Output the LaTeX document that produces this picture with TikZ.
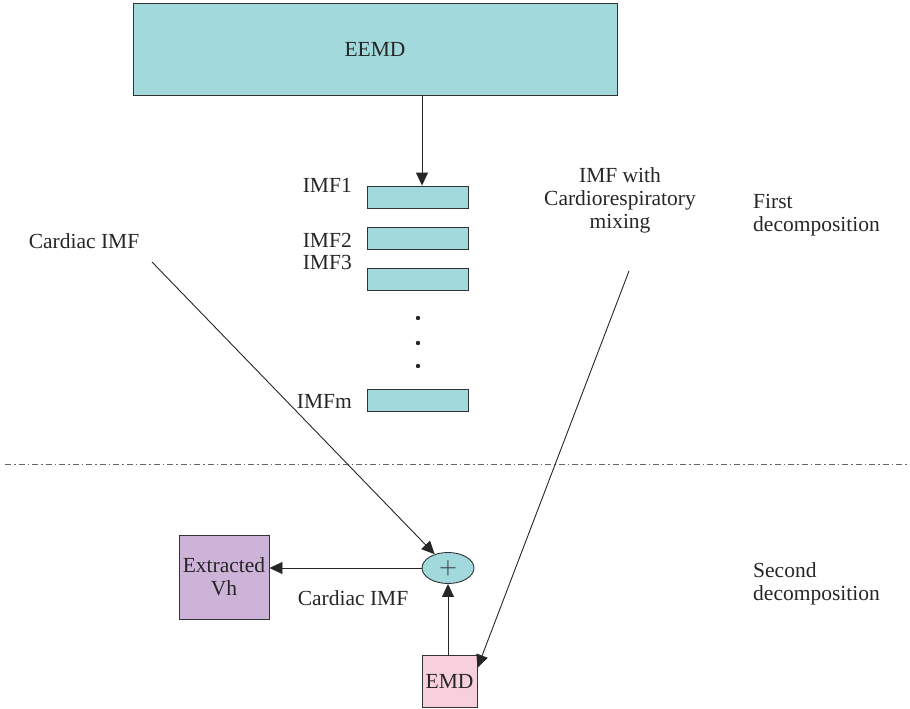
\documentclass[tikz,border=0pt]{standalone}
\usepackage{fontspec}
\setmainfont{Liberation Serif}
\usetikzlibrary{arrows.meta,calc,shapes.geometric}
\definecolor{tealfill}{HTML}{A1D9DC}
\definecolor{violetfill}{HTML}{CDB3D7}
\definecolor{pinkfill}{HTML}{F7CFDD}
\definecolor{edge}{HTML}{333333}
\begin{document}
\begin{tikzpicture}[x=1pt,y=-1pt,
  every node/.style={font=\fontsize{21.5}{23}\selectfont, text=black!85},
  box/.style={draw=edge, line width=0.9pt, inner sep=0pt},
  imfbox/.style={box, fill=tealfill, minimum width=101pt, minimum height=22pt},
  lbl/.style={inner sep=0pt, align=center},
  arr/.style={draw=black!85, line width=0.9pt, -{Triangle[length=13pt,width=12pt]}},
]
\useasboundingbox (0,0) rectangle (910,709);

% first decomposition
\node[box, fill=tealfill, minimum width=484pt, minimum height=92pt] (eemd) at (375,49) {EEMD};
\node[imfbox] (imf1) at (417.5,197) {};
\node[imfbox] (imf2) at (417.5,238) {};
\node[imfbox] (imf3) at (417.5,279.5) {};
\node[imfbox] (imfm) at (417.5,400) {};
\node[lbl, anchor=east] (limf1) at (352,185) {IMF1};
\node[lbl, anchor=east] (limf2) at (352,240) {IMF2};
\node[lbl, anchor=east] (limf3) at (352,262) {IMF3};
\node[lbl, anchor=east] (limfm) at (352,401) {IMFm};
\foreach \y/\n in {318/d1,343/d2,366/d3}
  \fill[black!85] (418,\y) circle (2.2pt) coordinate (\n);
\coordinate (eemdout) at (422,95);
\draw[arr] (eemdout) -- (imf1.north -| eemdout);

\node[lbl] (cardlab) at (84,241) {Cardiac IMF};
\node[lbl] (mixlab) at (620,200) {IMF with\\Cardiorespiratory\\mixing};
\node[lbl, align=left, anchor=west] (first) at (753,215) {First\\decomposition};

% separator
\coordinate (sepl) at (5,464);
\coordinate (sepr) at (910,464);
\draw[gray!80!black, line width=0.9pt, dash pattern=on 6pt off 3pt on 1.5pt off 3pt] (sepl) -- (sepr);

% second decomposition
\node[box, fill=tealfill, ellipse, minimum width=52pt, minimum height=31pt,
      font=\fontsize{28}{28}\selectfont] (plus) at (448,568) {$+$};
\node[box, fill=violetfill, minimum width=90pt, minimum height=84pt, lbl] (vh) at (224,577) {Extracted\\Vh};
\node[box, fill=pinkfill, minimum width=55pt, minimum height=52pt] (emd) at (449.5,681) {EMD};
\node[lbl] (cardlab2) at (353,598) {Cardiac IMF};
\node[lbl, align=left, anchor=west] (second) at (753,584) {Second\\decomposition};

\coordinate (c1) at (152,262);
\coordinate (c2) at (629,271);
\coordinate (emdin) at ($(emd.north east)!0.25!(emd.south east)$);
\draw[arr] (c1) -- (plus);
\draw[arr] (c2) -- (emdin);
\draw[arr] (plus) -- (plus -| vh.east);
\draw[arr] (emd.north -| plus) -- (plus);
\end{tikzpicture}
\end{document}
